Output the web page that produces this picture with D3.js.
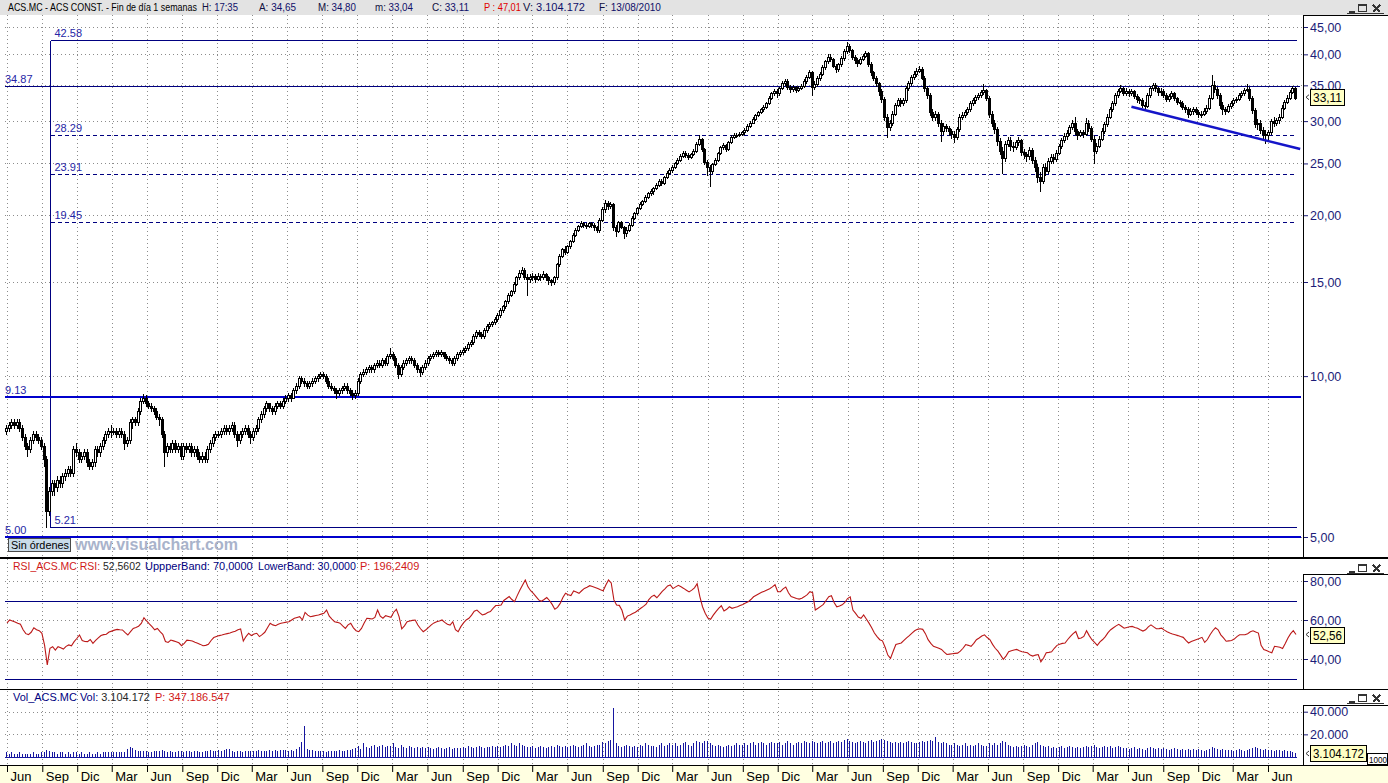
<!DOCTYPE html>
<html>
<head>
<meta charset="utf-8">
<title>ACS.MC semanal</title>
<script src="https://cdn.jsdelivr.net/npm/d3@7/dist/d3.min.js"></script>
<style>
  html, body { margin: 0; padding: 0; background: #fff; overflow: hidden; }
  svg { display: block; font-family: "Liberation Sans", Arial, sans-serif; }
</style>
</head>
<body>
<svg id="chart" width="1388" height="783"></svg>
<script>
// ---- data (one row per quarter) ----
const firstWeek = new Date(2001, 5, 1);   // first weekly bar (Friday)
const lastWeek = new Date(2010, 7, 13);   // 13/08/2010
const firstOpen = 7.9;

const closes = [
  8.0, 8.1, 8.2, 8.1, 8.2, 8.0, 7.7, 7.4, 7.3, 7.6, 7.8, 7.7, 7.6,
  7.4, 7.0, 5.6, 6.1, 6.3, 6.2, 6.4, 6.3, 6.5, 6.6, 6.7, 6.6, 7.3,
  7.2, 7.0, 7.1, 7.2, 6.9, 6.8, 6.9, 7.3, 7.2, 7.4, 7.6, 7.8, 7.9,
  7.9, 7.9, 7.8, 7.9, 7.8, 7.5, 7.6, 8.2, 8.3, 8.2, 8.6, 9.0, 9.1,
  8.9, 8.8, 8.7, 8.6, 8.4, 8.3, 7.8, 7.2, 7.4, 7.3, 7.5, 7.3, 7.4,
  7.1, 7.4, 7.3, 7.4, 7.2, 7.3, 7.1, 7.0, 7.1, 7.0, 7.3, 7.5, 7.7,
  7.8, 7.8, 7.9, 8.0, 7.9, 8.0, 8.1, 7.8, 7.6, 7.8, 7.9, 8.0, 7.8,
  7.7, 7.9, 8.0, 8.3, 8.5, 8.7, 8.9, 8.7, 8.6, 8.8, 8.9, 8.8, 9.0,
  9.1, 9.2, 9.1, 9.4, 9.6, 9.9, 9.8, 9.7, 9.6, 9.7, 9.8, 9.9, 10.0,
  10.1, 10.0, 9.8, 9.6, 9.5, 9.4, 9.3, 9.4, 9.5, 9.6, 9.4, 9.3, 9.2,
  9.3, 9.8, 10.1, 10.2, 10.3, 10.4, 10.3, 10.5, 10.6, 10.5, 10.7, 10.6, 10.9,
  11.0, 10.8, 10.5, 10.1, 10.4, 10.6, 10.7, 10.8, 10.7, 10.5, 10.3, 10.2, 10.4,
  10.6, 10.8, 10.9, 11.0, 11.1, 11.0, 11.1, 10.9, 10.8, 10.7, 10.6, 10.8, 11.0,
  11.1, 11.2, 11.3, 11.5, 11.6, 11.9, 12.1, 12.0, 11.9, 12.2, 12.4, 12.5, 12.6,
  12.8, 13.0, 13.3, 13.5, 13.8, 14.2, 14.4, 14.9, 15.3, 15.6, 15.8, 15.3, 15.2,
  15.3, 15.4, 15.2, 15.4, 15.3, 15.5, 15.3, 15.1, 15.0, 15.3, 16.2, 16.8, 17.3,
  17.1, 17.5, 17.9, 18.4, 18.8, 19.1, 19.3, 19.2, 19.1, 19.3, 19.2, 19.0, 18.8,
  19.6, 20.5, 21.1, 20.8, 21.0, 19.0, 18.7, 19.4, 19.0, 18.5, 18.8, 19.2, 19.8,
  20.2, 20.6, 21.0, 21.3, 21.6, 22.0, 22.2, 22.5, 22.8, 23.2, 23.0, 23.6, 24.0, 24.3,
  24.6, 25.0, 25.4, 25.8, 26.2, 25.9, 25.7, 26.0, 26.4, 27.2, 27.8, 26.6, 25.2,
  24.6, 24.2, 24.9, 25.4, 26.1, 26.8, 27.1, 26.6, 27.4, 28.0, 28.3, 28.2, 28.4,
  28.6, 28.9, 29.4, 29.8, 30.3, 30.8, 31.2, 31.6, 31.9, 32.4, 33.1, 33.8, 34.1,
  33.8, 34.6, 35.4, 35.7, 34.8, 34.4, 34.7, 34.3, 34.6, 34.9, 35.6, 36.3, 37.0,
  34.8, 35.2, 36.1, 36.8, 37.9, 38.8, 39.6, 39.2, 38.1, 37.5, 38.3, 39.4, 40.5,
  41.4, 40.8, 39.6, 39.0, 38.6, 39.2, 39.8, 40.2, 38.4, 37.0, 36.2, 35.3, 34.2,
  33.0, 30.6, 29.2, 29.8, 31.0, 32.2, 32.8, 32.4, 32.9, 34.6, 35.4, 36.3, 36.8,
  37.3, 37.6, 36.2, 34.6, 33.5, 31.2, 30.6, 30.9, 29.8, 28.7, 29.4, 29.1, 28.8,
  28.4, 28.0, 29.0, 30.6, 30.8, 31.2, 31.6, 32.4, 32.8, 33.3, 33.6, 34.0, 34.3,
  33.2, 31.0, 29.8, 29.0, 27.5, 26.4, 25.6, 27.2, 27.6, 27.0, 26.8, 27.4, 27.6,
  26.3, 26.0, 25.8, 26.5, 25.4, 24.6, 23.6, 23.2, 24.6, 24.2, 25.3, 25.7, 25.5,
  26.2, 26.9, 27.6, 28.1, 28.5, 29.2, 29.7, 28.8, 28.3, 28.6, 28.4, 29.8, 29.1,
  27.8, 26.4, 27.0, 27.8, 28.8, 29.6, 30.6, 31.6, 32.4, 33.5, 34.2, 34.6, 33.9,
  34.2, 33.8, 34.1, 33.4, 33.0, 32.8, 32.2, 32.0, 33.6, 34.6, 35.0, 34.6, 34.0,
  34.2, 33.6, 33.0, 33.4, 33.8, 33.1, 32.6, 32.4, 31.9, 31.6, 31.0, 31.3, 31.6,
  31.2, 30.9, 31.0, 31.4, 31.8, 33.2, 35.0, 34.4, 33.6, 32.2, 31.6, 31.4, 32.0,
  32.4, 32.8, 33.0, 33.5, 33.8, 34.3, 34.5, 33.2, 31.5, 29.6, 29.8, 28.9, 28.4,
  28.3, 28.6, 30.0, 29.8, 30.1, 30.6, 31.8, 32.6, 33.2, 34.0, 34.65, 33.11
];

const highs = [
  8.1, 8.2, 8.3, 8.3, 8.3, 8.3, 8.1, 7.8, 7.5, 7.7, 7.9, 7.9, 7.8,
  7.7, 7.5, 7.1, 6.2, 6.4, 6.4, 6.5, 6.5, 6.6, 6.7, 6.8, 6.8, 7.4,
  7.5, 7.3, 7.2, 7.3, 7.3, 7.0, 7.0, 7.4, 7.4, 7.5, 7.7, 7.9, 8.0,
  8.1, 8.0, 8.0, 8.0, 8.0, 7.9, 7.7, 8.3, 8.4, 8.4, 8.7, 9.1, 9.25,
  9.2, 9.0, 8.9, 8.8, 8.7, 8.5, 8.4, 7.9, 7.5, 7.5, 7.6, 7.6, 7.5,
  7.5, 7.5, 7.5, 7.5, 7.5, 7.4, 7.4, 7.2, 7.2, 7.2, 7.4, 7.6, 7.8,
  7.9, 7.9, 8.0, 8.1, 8.1, 8.1, 8.2, 8.2, 7.9, 7.9, 8.0, 8.1, 8.1,
  7.9, 8.0, 8.1, 8.4, 8.6, 8.8, 9.0, 8.9, 8.8, 8.9, 9.0, 9.0, 9.1,
  9.2, 9.3, 9.3, 9.5, 9.7, 10.0, 10.0, 9.9, 9.8, 9.8, 9.9, 10.0, 10.1,
  10.2, 10.2, 10.1, 9.9, 9.7, 9.6, 9.5, 9.5, 9.6, 9.7, 9.7, 9.5, 9.4,
  9.4, 9.9, 10.2, 10.3, 10.4, 10.5, 10.5, 10.6, 10.7, 10.7, 10.8, 10.8, 11.0,
  11.3, 11.1, 10.9, 10.6, 10.5, 10.7, 10.8, 10.9, 10.9, 10.8, 10.6, 10.4, 10.5,
  10.7, 10.9, 11.0, 11.1, 11.2, 11.2, 11.2, 11.1, 11.0, 10.9, 10.8, 10.9, 11.1,
  11.2, 11.3, 11.4, 11.6, 11.7, 12.0, 12.2, 12.2, 12.1, 12.3, 12.5, 12.6, 12.7,
  12.9, 13.1, 13.4, 13.6, 13.9, 14.3, 14.5, 15.0, 15.4, 15.8, 16.0, 15.9, 15.5,
  15.5, 15.6, 15.5, 15.6, 15.5, 15.7, 15.6, 15.4, 15.2, 15.4, 16.3, 16.9, 17.4,
  17.5, 17.6, 18.0, 18.5, 18.9, 19.2, 19.5, 19.4, 19.3, 19.4, 19.4, 19.3, 19.1,
  19.8, 20.7, 21.4, 21.3, 21.2, 21.1, 19.2, 19.5, 19.5, 19.1, 19.0, 19.3, 19.9,
  20.3, 20.7, 21.2, 21.4, 21.8, 22.1, 22.4, 22.6, 23.0, 23.4, 23.4, 23.7, 24.2, 24.5,
  24.8, 25.2, 25.6, 26.0, 26.4, 26.4, 26.1, 26.2, 26.6, 27.4, 28.3, 27.9, 26.7,
  25.4, 24.8, 25.1, 25.6, 26.3, 27.0, 27.3, 27.2, 27.5, 28.2, 28.5, 28.5, 28.6,
  28.8, 29.1, 29.6, 30.0, 30.5, 31.0, 31.4, 31.8, 32.1, 32.6, 33.4, 34.0, 34.4,
  34.4, 34.8, 35.7, 36.0, 35.9, 35.0, 35.0, 34.9, 34.9, 35.2, 35.9, 36.6, 37.4,
  37.2, 35.6, 36.4, 37.1, 38.2, 39.1, 40.0, 40.0, 39.4, 38.4, 38.6, 39.7, 40.9,
  42.1, 41.8, 41.0, 39.9, 39.3, 39.5, 40.1, 40.6, 40.4, 38.7, 37.3, 36.5, 35.5,
  34.4, 33.3, 30.9, 30.2, 31.3, 32.5, 33.1, 33.2, 33.1, 34.9, 35.7, 36.6, 37.3,
  37.7, 38.1, 37.8, 36.5, 34.9, 33.8, 31.6, 31.4, 31.2, 30.1, 29.8, 29.6, 29.4,
  29.0, 28.8, 29.3, 30.9, 31.2, 31.5, 31.9, 32.7, 33.1, 33.6, 33.9, 34.3, 35.2,
  34.5, 33.4, 31.4, 30.2, 29.3, 27.9, 26.8, 27.5, 28.0, 28.0, 27.4, 27.7, 28.0,
  27.8, 26.6, 26.3, 26.8, 26.7, 25.7, 24.9, 24.1, 24.9, 25.1, 25.6, 26.0, 26.0,
  26.5, 27.2, 27.9, 28.5, 28.9, 29.5, 30.1, 30.6, 29.0, 28.9, 28.9, 30.4, 30.2,
  29.4, 28.1, 27.3, 28.1, 29.1, 29.9, 30.9, 31.9, 32.7, 33.8, 34.5, 35.1, 34.8,
  34.6, 34.5, 34.4, 34.3, 33.7, 33.3, 33.1, 32.6, 33.9, 34.9, 35.4, 35.3, 34.8,
  34.6, 34.4, 33.9, 33.7, 34.1, 34.0, 33.3, 32.9, 32.7, 32.2, 31.9, 31.7, 31.9,
  31.9, 31.5, 31.4, 31.7, 32.1, 33.5, 36.6, 35.6, 34.8, 33.9, 32.6, 31.9, 32.3,
  32.7, 33.1, 33.3, 33.8, 34.1, 34.6, 35.2, 34.7, 33.4, 31.8, 30.3, 30.1, 29.2,
  28.9, 28.9, 30.3, 30.5, 30.4, 30.9, 32.1, 32.9, 33.5, 34.3, 34.9, 34.80
];

const lows = [
  7.8, 7.9, 8.0, 8.0, 8.0, 7.9, 7.6, 7.3, 7.1, 7.2, 7.5, 7.6, 7.5,
  7.3, 6.8, 5.21, 5.5, 6.0, 6.0, 6.1, 6.2, 6.2, 6.4, 6.5, 6.5, 6.5,
  7.1, 6.9, 6.9, 7.0, 6.8, 6.7, 6.7, 6.8, 7.1, 7.1, 7.3, 7.5, 7.7,
  7.7, 7.8, 7.7, 7.7, 7.7, 7.3, 7.4, 7.5, 8.0, 8.1, 8.1, 8.5, 8.9,
  8.8, 8.7, 8.6, 8.5, 8.3, 8.1, 7.7, 6.8, 7.1, 7.2, 7.2, 7.2, 7.2,
  7.0, 7.0, 7.2, 7.2, 7.1, 7.1, 7.0, 6.9, 6.9, 6.9, 6.9, 7.2, 7.4,
  7.6, 7.7, 7.7, 7.8, 7.8, 7.8, 7.9, 7.7, 7.4, 7.5, 7.7, 7.8, 7.7,
  7.5, 7.6, 7.8, 7.9, 8.2, 8.4, 8.6, 8.6, 8.5, 8.5, 8.7, 8.7, 8.7,
  8.9, 9.0, 9.0, 9.1, 9.3, 9.5, 9.7, 9.6, 9.5, 9.5, 9.6, 9.7, 9.8,
  9.9, 9.9, 9.7, 9.5, 9.4, 9.3, 9.1, 9.2, 9.3, 9.4, 9.3, 9.2, 9.05,
  9.1, 9.2, 9.7, 10.0, 10.1, 10.2, 10.2, 10.2, 10.4, 10.4, 10.4, 10.5, 10.5,
  10.8, 10.7, 10.4, 9.9, 10.0, 10.3, 10.5, 10.6, 10.6, 10.4, 10.2, 10.0, 10.1,
  10.3, 10.5, 10.7, 10.8, 10.9, 10.9, 10.9, 10.8, 10.7, 10.6, 10.5, 10.5, 10.7,
  10.9, 11.0, 11.1, 11.2, 11.4, 11.5, 11.8, 11.9, 11.8, 11.8, 12.1, 12.3, 12.4,
  12.5, 12.7, 12.9, 13.2, 13.4, 13.7, 14.1, 14.3, 14.8, 15.2, 15.5, 15.2, 14.2,
  15.0, 15.1, 15.0, 15.1, 15.1, 15.2, 15.1, 14.9, 14.8, 14.9, 15.2, 16.1, 16.7,
  16.9, 17.0, 17.4, 17.8, 18.3, 18.7, 19.0, 19.0, 18.9, 19.0, 19.0, 18.8, 18.6,
  18.6, 19.5, 20.3, 20.5, 20.6, 18.8, 18.3, 18.6, 18.9, 18.1, 18.3, 18.7, 19.1,
  19.7, 20.1, 20.5, 20.9, 21.2, 21.5, 21.8, 21.9, 22.4, 22.7, 22.8, 22.9, 23.5, 23.9,
  24.1, 24.5, 24.9, 25.3, 25.7, 25.7, 25.5, 25.6, 25.9, 26.3, 27.1, 26.4, 24.9,
  23.8, 22.7, 24.0, 24.8, 25.3, 26.0, 26.6, 26.4, 26.5, 27.3, 27.9, 28.0, 28.1,
  28.2, 28.4, 28.8, 29.3, 29.7, 30.2, 30.7, 31.1, 31.4, 31.8, 32.3, 33.0, 33.5,
  33.3, 33.6, 34.4, 35.1, 34.5, 34.0, 34.2, 34.0, 34.1, 34.4, 34.7, 35.4, 36.1,
  33.6, 34.4, 34.9, 35.8, 36.6, 37.6, 38.5, 38.8, 37.8, 37.0, 37.3, 38.0, 39.1,
  40.2, 40.4, 39.2, 38.6, 38.1, 38.3, 39.0, 39.5, 38.1, 36.6, 35.8, 34.9, 33.6,
  32.6, 30.2, 28.0, 28.9, 29.5, 30.8, 32.0, 32.0, 32.1, 32.6, 34.3, 35.1, 36.0,
  36.5, 37.0, 35.9, 34.2, 33.1, 30.8, 30.1, 30.2, 29.4, 27.5, 28.4, 28.7, 28.3,
  27.9, 27.4, 27.8, 28.8, 30.3, 30.5, 30.9, 31.3, 32.1, 32.5, 33.0, 33.3, 33.7,
  32.8, 30.6, 29.4, 28.5, 27.1, 26.0, 24.0, 25.3, 26.9, 26.5, 26.4, 26.6, 27.1,
  25.9, 25.6, 25.3, 25.5, 25.0, 24.2, 23.1, 22.2, 23.0, 23.8, 24.0, 25.1, 25.1,
  25.3, 26.0, 26.7, 27.4, 27.8, 28.3, 29.0, 28.4, 27.8, 28.1, 28.0, 28.2, 28.7,
  27.5, 25.0, 26.1, 26.8, 27.6, 28.5, 29.4, 30.4, 31.3, 32.2, 33.3, 34.0, 33.5,
  33.6, 33.4, 33.5, 33.1, 32.6, 32.5, 31.9, 31.6, 31.9, 33.3, 34.3, 34.2, 33.6,
  33.6, 33.3, 32.7, 32.7, 33.1, 32.8, 32.3, 32.0, 31.6, 31.2, 30.6, 30.8, 31.0,
  30.9, 30.5, 30.6, 30.8, 31.1, 31.6, 33.0, 34.0, 33.2, 31.8, 30.9, 30.9, 31.2,
  31.8, 32.2, 32.6, 32.8, 33.3, 33.6, 34.1, 32.9, 31.1, 29.2, 29.0, 28.5, 27.9,
  27.3, 27.8, 28.4, 29.4, 29.5, 29.7, 30.4, 31.6, 32.4, 33.0, 33.8, 33.04
];

// weekly volume, millions of shares
const volumes = [
  4, 3, 4, 3, 3, 4, 3, 3, 3, 3, 4, 3, 3,
  4, 4, 6, 5, 4, 4, 3, 4, 4, 3, 4, 3, 4,
  4, 3, 4, 3, 3, 4, 3, 3, 4, 3, 4, 4, 4,
  4, 4, 4, 4, 4, 4, 7, 9, 8, 6, 5, 5, 5,
  5, 4, 4, 5, 5, 5, 6, 5, 4, 5, 4, 4, 5,
  5, 4, 5, 5, 4, 5, 5, 4, 4, 5, 5, 6, 5,
  5, 6, 5, 6, 7, 7, 5, 4, 5, 5, 4, 5, 5,
  5, 5, 5, 6, 5, 5, 5, 6, 5, 6, 5, 6, 6,
  6, 5, 6, 5, 7, 9, 13, 27, 7, 6, 6, 5, 5,
  5, 5, 4, 5, 5, 5, 5, 6, 5, 5, 6, 6, 7,
  8, 10, 7, 12, 9, 8, 10, 11, 9, 10, 11, 9, 10,
  10, 12, 9, 8, 11, 9, 8, 10, 9, 8, 9, 8, 9,
  8, 9, 8, 7, 8, 9, 8, 7, 8, 9, 7, 8, 8,
  8, 9, 8, 10, 9, 8, 9, 10, 9, 8, 9, 9, 10,
  9, 10, 9, 10, 11, 10, 12, 11, 10, 12, 11, 10, 9,
  9, 10, 8, 9, 10, 9, 8, 9, 10, 9, 11, 10, 9,
  10, 9, 10, 11, 10, 9, 10, 11, 12, 10, 9, 10, 11,
  11, 13, 12, 14, 15, 43, 12, 10, 9, 10, 11, 10, 9,
  10, 9, 11, 10, 12, 11, 10, 10, 9, 11, 12, 10, 11, 12,
  11, 12, 10, 11, 12, 13, 11, 10, 12, 14, 13, 12, 14,
  14, 12, 11, 10, 11, 10, 9, 10, 11, 10, 11, 12, 11,
  11, 12, 11, 12, 13, 11, 12, 13, 12, 11, 12, 13, 12,
  12, 13, 11, 12, 14, 12, 11, 12, 13, 12, 14, 13, 12,
  14, 13, 12, 13, 14, 12, 13, 14, 12, 13, 14, 13, 15,
  16, 14, 13, 12, 13, 14, 13, 12, 14, 15, 13, 14, 15,
  16, 15, 14, 13, 12, 13, 12, 13, 12, 13, 14, 13, 12,
  12, 13, 14, 13, 14, 15, 14, 18, 13, 12, 13, 12, 11,
  11, 12, 11, 10, 11, 12, 10, 11, 10, 11, 12, 11, 10,
  10, 12, 11, 12, 11, 12, 14, 13, 11, 10, 9, 10, 9,
  10, 11, 10, 9, 11, 12, 13, 11, 10, 9, 10, 8, 9,
  8, 9, 10, 8, 9, 10, 9, 8, 9, 8, 9, 10, 9,
  10, 11, 9, 8, 9, 10, 9, 10, 8, 9, 10, 9, 8,
  8, 7, 8, 9, 7, 8, 7, 6, 8, 9, 8, 7, 8,
  7, 8, 7, 6, 7, 8, 7, 6, 7, 6, 7, 6, 7,
  6, 7, 6, 5, 6, 7, 9, 8, 7, 6, 7, 6, 6,
  6, 5, 6, 7, 6, 5, 6, 7, 8, 9, 8, 7, 6,
  7, 6, 6, 5, 6, 6, 5, 6, 5, 5, 4, 3.104172
];

const rsiValues = [
  58.5, 60.0, 59.5, 59.0, 58.3, 57.8, 55.0, 53.0, 52.5, 53.7, 56.0, 55.0, 54.5,
  53.2, 47.0, 37.0, 45.5, 46.3, 44.6, 46.3, 45.8, 45.1, 46.5, 47.2, 46.8, 48.9,
  50.5, 52.3, 49.5, 49.0, 48.9, 50.0, 48.0, 49.5, 50.8, 52.0, 52.5, 52.7, 53.8,
  54.3, 54.8, 55.2, 55.0, 54.9, 53.5, 52.3, 54.0, 55.7, 56.2, 56.8, 58.2, 61.2,
  59.5, 58.0, 56.6, 55.0, 55.7, 54.0, 52.7, 49.0, 48.5, 49.7, 49.3, 48.9, 48.3,
  46.8, 48.0, 49.7, 49.5, 49.2, 48.6, 48.1, 47.5, 46.8, 47.0, 47.5, 49.5, 51.0,
  51.5, 52.0, 52.3, 52.7, 53.0, 53.3, 53.8, 54.2, 55.0, 55.4, 49.2, 51.5, 53.2, 52.0,
  52.8, 53.2, 51.5, 52.5, 53.7, 56.0, 58.3, 57.5, 57.1, 57.8, 58.3, 58.6, 58.9,
  59.1, 60.0, 60.9, 61.3, 61.7, 60.0, 63.9, 62.5, 61.7, 62.0, 62.3, 62.6, 63.0,
  63.4, 65.1, 62.0, 60.5, 59.1, 58.8, 58.4, 57.0, 55.7, 57.5, 58.3, 56.0, 54.5,
  54.0, 55.7, 58.5, 60.9, 60.7, 60.5, 61.3, 65.1, 62.0, 60.9, 62.2, 61.8, 61.4,
  64.0, 65.5, 61.7, 55.5, 57.0, 59.1, 59.5, 59.8, 60.0, 57.4, 55.5, 54.0, 55.0,
  56.2, 57.5, 58.5, 59.1, 59.5, 60.0, 58.8, 57.8, 57.4, 59.1, 55.0, 54.0, 56.6,
  58.5, 60.0, 60.9, 62.5, 64.5, 65.1, 63.8, 62.6, 63.0, 63.8, 64.3, 66.0, 67.4,
  67.5, 67.7, 70.0, 71.0, 72.0, 70.5, 69.4, 72.5, 75.4, 78.0, 80.5, 77.0, 75.0,
  73.7, 72.0, 70.3, 69.6, 70.5, 71.5, 70.0, 68.0, 65.5, 66.5, 68.5, 71.5, 73.7,
  73.0, 72.5, 74.9, 74.3, 73.7, 75.0, 76.2, 76.8, 77.6, 77.2, 76.7, 76.2, 75.5,
  75.0, 78.0, 80.5, 79.0, 70.3, 67.7, 67.5, 65.0, 60.0, 62.0, 62.6, 63.3, 64.0,
  65.0, 66.0, 67.0, 68.1, 70.5, 72.0, 72.7, 71.4, 73.0, 74.7, 76.0, 77.5, 78.0,
  76.1, 77.0, 77.8, 77.0, 76.2, 75.3, 74.4, 75.3, 76.5, 78.6, 72.0, 66.8, 63.5,
  61.0, 60.4, 62.5, 64.3, 66.0, 67.3, 64.6, 65.5, 66.8, 66.0, 66.4, 66.8, 67.4, 68.0,
  68.7, 69.3, 70.5, 71.9, 72.7, 73.5, 74.2, 74.7, 75.4, 76.0, 77.0, 78.1, 74.5,
  74.5, 76.0, 76.9, 74.0, 72.0, 71.5, 71.0, 70.7, 71.2, 72.0, 73.0, 74.5, 74.0,
  65.1, 66.0, 67.0, 68.0, 70.0, 71.9, 72.4, 69.0, 66.8, 67.2, 67.8, 69.0, 71.0,
  71.9, 65.1, 63.4, 61.5, 60.9, 62.6, 60.5, 58.4, 56.0, 53.3, 51.5, 49.9, 49.3,
  46.0, 42.0, 40.3, 44.0, 47.4, 47.8, 48.2, 49.5, 50.8, 52.0, 53.3, 54.5, 55.2,
  55.5, 55.2, 53.0, 49.9, 48.0, 46.5, 46.0, 45.5, 44.9, 43.5, 42.3, 42.5, 42.7,
  42.9, 43.0, 44.0, 45.5, 47.4, 47.0, 46.5, 48.0, 49.9, 50.8, 51.8, 52.4, 51.0,
  50.0, 47.5, 45.5, 44.0, 42.0, 39.8, 41.5, 43.7, 44.2, 44.6, 44.9, 44.2, 43.7,
  43.5, 43.2, 42.0, 41.5, 42.0, 42.3, 38.6, 40.5, 43.2, 43.4, 43.7, 45.5, 47.0,
  47.6, 48.0, 48.2, 50.0, 51.6, 53.0, 54.1, 50.5, 50.8, 51.6, 54.5, 52.0, 49.9,
  48.5, 47.0, 48.8, 50.0, 51.5, 53.5, 55.0, 56.0, 57.0, 57.8, 56.8, 55.8, 56.2,
  56.5, 56.7, 56.2, 55.8, 55.0, 54.3, 55.0, 56.5, 57.5, 56.5, 55.5, 55.6, 55.8,
  54.8, 54.0, 53.3, 52.8, 52.4, 52.0, 51.5, 51.1, 49.5, 48.2, 49.0, 49.5, 50.0,
  50.5, 51.1, 48.5, 50.0, 52.4, 54.5, 56.0, 55.0, 52.4, 50.8, 49.1, 49.3, 49.5, 50.2,
  51.5, 52.4, 52.4, 52.4, 53.0, 54.0, 54.5, 53.8, 53.3, 47.0, 44.9, 44.3, 43.7,
  43.2, 46.5, 46.3, 46.0, 45.4, 48.0, 50.8, 53.0, 54.5, 52.56
];

const priceTicks = [45, 40, 35, 30, 25, 20, 15, 10, 5];
const rsiTicks = [80, 60, 40];
const rsiBands = [70, 30];
const volTicks = [40, 20];
const tickMonths = [2, 5, 8, 11];
const monthNames = ['Mar', 'Jun', 'Sep', 'Dic'];

// drawn studies
const fiboDate = new Date(2001, 8, 21);
const fiboLevels = [42.58, 28.29, 23.91, 19.45, 5.21];
const fiboDashed = [28.29, 23.91, 19.45];
const resistances = [34.87];
const supports = [9.13, 5.00];
const trendDates = [new Date(2009, 5, 10), new Date(2010, 7, 24)];
const trendPrices = [31.9, 26.6];

// panel captions
const mainTitle = 'ACS.MC - ACS CONST. - Fin de día 1 semanas';
const mainFields = [['H:', '17:35'], ['A:', '34,65'], ['M:', '34,80'], ['m:', '33,04'],
  ['C:', '33,11'], ['P :', '47,01'], ['V:', '3.104.172'], ['F:', '13/08/2010']];
const rsiFields = [['RSI_ACS.MC RSI:', '52,5602'], ['UppperBand:', '70,0000'],
  ['LowerBand:', '30,0000'], ['P:', '196,2409']];
const volFields = [['Vol_ACS.MC Vol:', '3.104.172'], ['P:', '347.186.547']];

// ---- chart ----
const svg = d3.select('#chart');
const es = d3.formatLocale({ decimal: ',', thousands: '.', grouping: [3], currency: ['', ''] });
const fmt2 = es.format(',.2f');
const fmtInt = es.format(',d');

const dates = d3.timeFriday.range(firstWeek, d3.timeDay.offset(lastWeek, 1));
const n = d3.min([dates.length, closes.length, highs.length, lows.length, volumes.length, rsiValues.length]);
const bars = d3.range(n).map(i => {
  const open = i ? closes[i - 1] : firstOpen;
  return {
    date: dates[i], open, close: closes[i],
    high: Math.max(highs[i], open, closes[i]),
    low: Math.min(lows[i], open, closes[i]),
    vol: volumes[i], rsi: rsiValues[i]
  };
});

const x = d3.scaleTime().domain([firstWeek, lastWeek]).range([7, 1296]);
const y = d3.scaleLog().domain([5, 45]).range([537, 27]);
const yRsi = d3.scaleLinear().domain([30, 80]).range([678.5, 581]);
const yVol = d3.scaleLinear().domain([0, 40]).range([757, 711.7]);

const L = 5, R = 1303;
const NAVY = '#000080', AXIS = '#1c1c78';
const px = v => Math.round(v) + 0.5;

// squeeze a caption horizontally into the room the original gives it
const fitText = (sel, x0, maxW) => {
  sel.attr('x', 0).attr('transform', `translate(${x0},0)`);
  const w = sel.node().getComputedTextLength();
  if (w > maxW) sel.attr('transform', `translate(${x0},0) scale(${(maxW / w).toFixed(4)},1)`);
  return sel;
};

// backgrounds
svg.append('rect').attr('width', 1388).attr('height', 15).attr('fill', '#e3e3e3');
svg.append('rect').attr('y', 765).attr('width', 1388).attr('height', 18).attr('fill', '#ffffe1');

// dotted grid
const quarterTicks = d3.timeMonth.range(firstWeek, lastWeek)
  .filter(d => tickMonths.includes(d.getMonth()));
const grid = svg.append('g')
  .attr('stroke', '#8c8c8c').attr('stroke-dasharray', '1,3').attr('shape-rendering', 'crispEdges');
grid.selectAll('line.v').data(quarterTicks).join('line').attr('class', 'v')
  .attr('x1', d => px(x(d))).attr('x2', d => px(x(d))).attr('y1', 15).attr('y2', 765);
const hGrid = (vals, scale) => grid.append('g').selectAll('line').data(vals).join('line')
  .attr('x1', L).attr('x2', R).attr('y1', d => px(scale(d))).attr('y2', d => px(scale(d)));
hGrid(priceTicks, y);
hGrid(rsiTicks, yRsi);
hGrid(volTicks, yVol);

// study lines under the candles
const ann = svg.append('g').attr('shape-rendering', 'crispEdges');
const xF = px(x(fiboDate));
const xEnd = 1297;
ann.selectAll('line.fibo').data(fiboLevels).join('line').attr('class', 'fibo')
  .attr('x1', xF).attr('x2', xEnd).attr('y1', d => px(y(d))).attr('y2', d => px(y(d)))
  .attr('stroke', NAVY).attr('stroke-dasharray', d => fiboDashed.includes(d) ? '4,3' : null);
ann.append('line').attr('x1', xF).attr('x2', xF)
  .attr('y1', px(y(d3.max(fiboLevels)))).attr('y2', px(y(d3.min(fiboLevels))))
  .attr('stroke', NAVY);
ann.selectAll('line.res').data(resistances).join('line').attr('class', 'res')
  .attr('x1', L).attr('x2', 1300).attr('y1', d => px(y(d))).attr('y2', d => px(y(d)))
  .attr('stroke', NAVY);
ann.selectAll('line.sup').data(supports).join('line').attr('class', 'sup')
  .attr('x1', L).attr('x2', 1301).attr('y1', d => Math.round(y(d))).attr('y2', d => Math.round(y(d)))
  .attr('stroke', '#0000cc').attr('stroke-width', 2);

const annText = svg.append('g').attr('font-size', 11).attr('fill', '#2626a6');
annText.selectAll('text.f').data(fiboLevels).join('text').attr('class', 'f')
  .attr('x', xF + 4).attr('y', d => y(d) - 3).text(d => d3.format('.2f')(d));
annText.selectAll('text.r').data(resistances.concat(supports)).join('text').attr('class', 'r')
  .attr('x', L).attr('y', d => y(d) - 3).text(d => d3.format('.2f')(d));

// candles
const cg = svg.append('g').attr('shape-rendering', 'crispEdges');
const candle = cg.selectAll('g').data(bars).join('g');
candle.append('line')
  .attr('x1', d => Math.round(x(d.date)) - 0.5).attr('x2', d => Math.round(x(d.date)) - 0.5)
  .attr('y1', d => Math.round(y(d.high))).attr('y2', d => Math.round(y(d.low)) + 1)
  .attr('stroke', '#000');
candle.append('rect')
  .attr('x', d => Math.round(x(d.date)) - 1.5).attr('width', 2)
  .attr('y', d => Math.round(y(Math.max(d.open, d.close))) + 0.5)
  .attr('height', d => Math.max(1, Math.round(y(Math.min(d.open, d.close))) - Math.round(y(Math.max(d.open, d.close)))))
  .attr('fill', d => d.close >= d.open ? '#fff' : '#000')
  .attr('stroke', '#000');

// trend line over the candles
svg.append('line')
  .attr('x1', x(trendDates[0])).attr('y1', y(trendPrices[0]))
  .attr('x2', x(trendDates[1])).attr('y2', y(trendPrices[1]))
  .attr('stroke', '#1414c8').attr('stroke-width', 2.6);

// RSI
svg.append('g').attr('shape-rendering', 'crispEdges').selectAll('line').data(rsiBands).join('line')
  .attr('x1', L).attr('x2', xEnd).attr('y1', d => px(yRsi(d))).attr('y2', d => px(yRsi(d)))
  .attr('stroke', NAVY).attr('stroke-width', 1.2);
svg.append('path').datum(bars)
  .attr('d', d3.line().x(d => x(d.date)).y(d => yRsi(d.rsi)))
  .attr('fill', 'none').attr('stroke', '#bb1818').attr('stroke-width', 1.1);

// volume
svg.append('g').attr('shape-rendering', 'crispEdges').selectAll('line').data(bars).join('line')
  .attr('x1', d => Math.round(x(d.date)) - 0.5).attr('x2', d => Math.round(x(d.date)) - 0.5)
  .attr('y1', yVol(0)).attr('y2', d => Math.min(yVol(0) - 1, yVol(d.vol)))
  .attr('stroke', '#1616a0');
svg.append('line').attr('x1', L).attr('x2', 1297).attr('y1', px(yVol(0))).attr('y2', px(yVol(0)))
  .attr('stroke', '#1616a0').attr('shape-rendering', 'crispEdges');

// right-hand axes
const styleAxis = g => {
  g.select('.domain').remove();
  g.attr('font-family', null).attr('font-size', 12.5);
  g.selectAll('.tick line').attr('stroke', AXIS);
  g.selectAll('.tick text').attr('fill', AXIS);
};
svg.append('g').attr('transform', `translate(${R},0)`)
  .call(d3.axisRight(y).tickValues(priceTicks).tickFormat(fmt2).tickSize(5).tickPadding(2)).call(styleAxis);
svg.append('g').attr('transform', `translate(${R},0)`)
  .call(d3.axisRight(yRsi).tickValues(rsiTicks).tickFormat(fmt2).tickSize(5).tickPadding(2)).call(styleAxis);
svg.append('g').attr('transform', `translate(${R},0)`)
  .call(d3.axisRight(yVol).tickValues(volTicks).tickFormat(d => fmtInt(d * 1000)).tickSize(5).tickPadding(2)).call(styleAxis);

// time axis
const gx = svg.append('g').attr('transform', 'translate(0,765)')
  .call(d3.axisBottom(x).tickValues(quarterTicks)
    .tickFormat(d => monthNames[tickMonths.indexOf(d.getMonth())]).tickSize(7));
gx.select('.domain').remove();
gx.attr('font-family', null).attr('font-size', 13);
gx.selectAll('.tick line').attr('stroke', '#000');
gx.selectAll('.tick text').attr('text-anchor', 'start').attr('x', 3).attr('y', 16).attr('dy', null).attr('fill', '#000');

// frames and separators
const frame = svg.append('g').attr('stroke', '#000').attr('shape-rendering', 'crispEdges').attr('fill', 'none');
frame.append('path').attr('d', `M${R + 0.5},15 V557 M${R},15.5 H1388`);
frame.append('path').attr('d', `M${R + 0.5},574 V689 M${R},574.5 H1388`);
frame.append('path').attr('d', `M${R + 0.5},705 V765 M${R},705.5 H1388`);
frame.append('line').attr('x1', 0).attr('x2', 1388).attr('y1', 558).attr('y2', 558).attr('stroke-width', 2);
frame.append('line').attr('x1', 0).attr('x2', 1388).attr('y1', 689.5).attr('y2', 689.5);
frame.append('line').attr('x1', 0).attr('x2', 1388).attr('y1', 765.5).attr('y2', 765.5);

// last-value boxes
const valueBox = (cy, label, w) => {
  const g = svg.append('g');
  g.append('path').attr('d', `M1309,${cy - 2.5} L1306,${cy} L1309,${cy + 2.5}`)
    .attr('fill', 'none').attr('stroke', '#333');
  g.append('rect').attr('x', 1310.5).attr('y', Math.round(cy - 8) + 0.5).attr('width', w).attr('height', 16)
    .attr('fill', '#ffffc4').attr('stroke', '#000').attr('shape-rendering', 'crispEdges');
  fitText(g.append('text').attr('y', Math.round(cy - 8) + 13.5)
    .attr('font-size', 13).attr('fill', '#000').text(label), 1313, w - 5);
};
const last = bars[n - 1];
svg.append('rect').attr('x', 1367.5).attr('y', 753.5).attr('width', 20).attr('height', 11)
  .attr('fill', '#fff').attr('stroke', '#000').attr('shape-rendering', 'crispEdges');
fitText(svg.append('text').attr('y', 763).attr('font-size', 9).attr('fill', '#000').text('1000'), 1369, 18);
valueBox(y(last.close) - 1, fmt2(last.close), 34);
valueBox(yRsi(last.rsi), fmt2(last.rsi), 34);
valueBox(Math.min(yVol(last.vol), 756), fmtInt(Math.round(last.vol * 1e6)), 56);

// captions: each field gets its own slot, as in the original
const caption = (yb, size, items) => {
  items.forEach(({ x0, w, parts }) => {
    const t = svg.append('text').attr('y', yb).attr('font-size', size);
    parts.forEach(([txt, col]) => t.append('tspan').attr('fill', col).text(txt));
    fitText(t, x0, w);
  });
};
const mainX = [202, 259, 318, 375, 432, 484, 523, 599];
const mainW = [36, 37, 38, 38, 37, 37, 64, 62];
caption(11, 11, [{ x0: 8, w: 189, parts: [[mainTitle, '#000']] }].concat(
  mainFields.map(([k, v], i) => {
    const red = k.startsWith('P');
    return { x0: mainX[i], w: mainW[i],
      parts: [[k + ' ', red ? '#e00000' : '#101040'], [v, red ? '#e00000' : '#10106a']] };
  })));

const rsiX = [13, 145, 258, 360], rsiW = [128, 108, 98, 60];
const rsiCols = [['#d01818', '#262626'], [NAVY, NAVY], [NAVY, NAVY], ['#d01818', '#d01818']];
caption(570, 11, rsiFields.map(([k, v], i) => ({ x0: rsiX[i], w: rsiW[i],
  parts: [[k + ' ', rsiCols[i][0]], [v, rsiCols[i][1]]] })));

const volX = [13, 155], volW = [137, 80];
const volCols = [[NAVY, '#262626'], ['#d01818', '#d01818']];
caption(701, 11, volFields.map(([k, v], i) => ({ x0: volX[i], w: volW[i],
  parts: [[k + ' ', volCols[i][0]], [v, volCols[i][1]]] })));

// order status and watermark
svg.append('rect').attr('x', 8.5).attr('y', 538.5).attr('width', 62).attr('height', 13)
  .attr('fill', '#c9dbe9').attr('stroke', '#4a4a4a').attr('shape-rendering', 'crispEdges');
fitText(svg.append('text').attr('y', 549).attr('font-size', 11).attr('fill', '#000').text('Sin órdenes'), 11, 58);
fitText(svg.append('text').attr('y', 549.5).attr('font-size', 16).attr('font-weight', 'bold')
  .attr('fill', '#a9b3cb').text('www.visualchart.com'), 75, 170);

// window buttons of each panel
[3, 563, 693].forEach(top => {
  const g = svg.append('g').attr('transform', `translate(0,${top})`)
    .attr('stroke', '#333').attr('fill', 'none').attr('shape-rendering', 'crispEdges');
  g.append('line').attr('x1', 1349).attr('x2', 1355).attr('y1', 8.5).attr('y2', 8.5).attr('stroke-width', 2);
  g.append('rect').attr('x', 1358.5).attr('y', 1.5).attr('width', 8).attr('height', 7);
  g.append('line').attr('x1', 1358).attr('x2', 1367).attr('y1', 2).attr('y2', 2).attr('stroke-width', 2);
  g.append('path').attr('d', 'M1373,2 L1380,9 M1380,2 L1373,9').attr('stroke-width', 1.6)
    .attr('shape-rendering', null);
  g.append('line').attr('x1', 1347).attr('x2', 1384).attr('y1', 10.5).attr('y2', 10.5);
});
</script>
</body>
</html>
